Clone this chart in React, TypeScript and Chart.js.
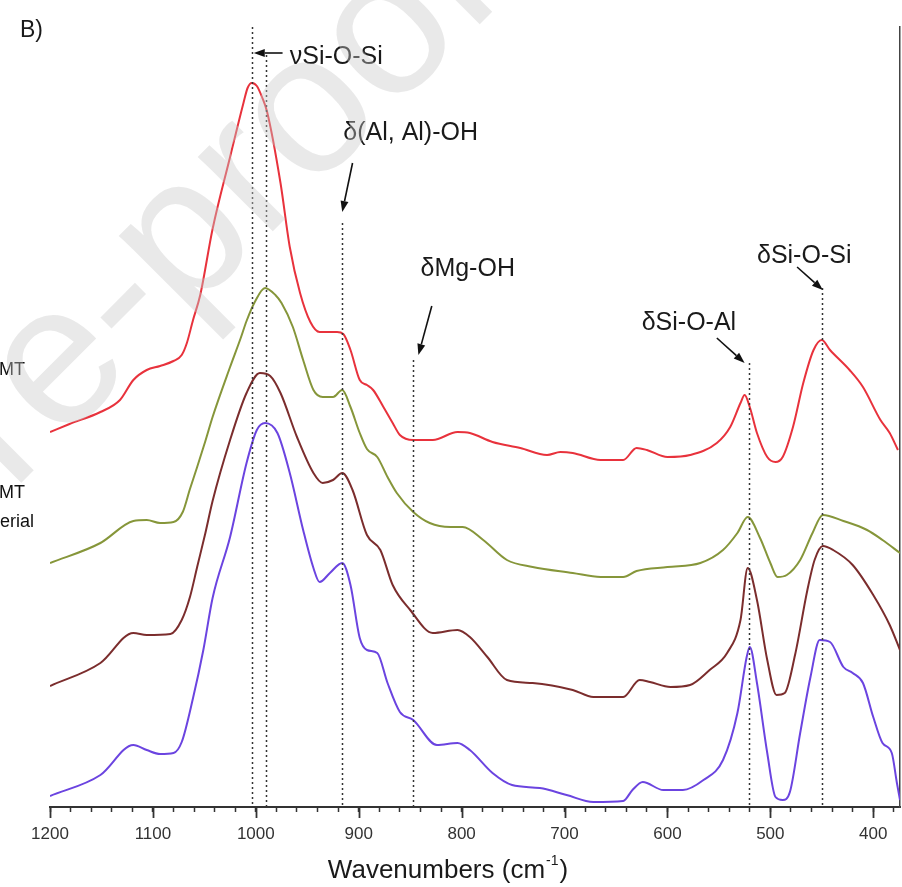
import React, { useEffect, useRef } from "react";
import { Chart, registerables } from "chart.js";
Chart.register(...registerables);

// ---- data (wavenumber in cm-1, intensity in arbitrary offset units) ----
const redWn = [1200,1181,1151,1132,1119,1106,1093,1080,1072,1067,1061,1054,1042,1025,1012,1008,1004,999,994,989,976,967,957,947,938,921,915,908,899,892,886,876,867,860,847,828,804,792,770,743,717,704,692,665,643,630,620,600,578,552,539,529,525,520,513,503,495,488,478,468,458,450,442,423,410,393,384,376];
const redAbs = [375,383,395,407,427,437,441,446,452,464,487,512,578,650,704,719,724,721,710,695,624,560,514,485,475,475,473,457,427,422,417,400,384,372,367,367,375,374,365,359,352,355,354,347,347,359,357,350,352,364,380,404,412,400,374,350,345,350,380,424,457,467,457,437,420,387,374,357];

const greenWn = [1200,1151,1119,1106,1093,1080,1071,1064,1057,1049,1042,1025,1015,1009,1001,991,981,975,964,954,944,935,925,916,908,899,892,882,872,863,847,831,811,799,779,756,731,692,665,643,630,600,568,546,532,522,510,500,493,484,471,459,449,429,406,391,374];
const greenAbs = [244,264,286,287,284,285,295,318,340,366,390,440,468,486,505,519,512,504,480,447,417,410,410,417,400,374,358,350,330,314,295,284,280,280,267,247,240,234,230,230,236,240,244,257,274,290,269,244,230,232,247,274,292,286,277,267,254];

const brownWn = [1200,1151,1119,1106,1083,1072,1064,1057,1049,1042,1025,1009,996,986,976,960,944,935,925,916,906,892,879,867,850,828,804,792,775,756,731,692,672,643,627,617,597,578,559,542,529,522,513,503,494,486,476,464,457,449,439,420,400,384,374];
const brownAbs = [121,144,174,172,173,187,210,240,274,306,367,414,434,431,414,370,334,324,327,334,317,272,257,222,197,174,177,170,150,127,124,117,110,110,127,125,120,122,137,154,187,239,207,147,112,114,152,217,247,261,257,242,212,182,157];

const purpleWn = [1200,1151,1119,1106,1093,1080,1072,1061,1051,1042,1025,1009,999,991,979,967,954,944,938,928,916,908,899,892,882,872,860,847,824,804,792,770,751,724,698,672,643,634,624,604,585,565,546,532,523,520,513,503,495,488,481,471,461,452,442,429,420,410,400,391,382,377,374];
const purpleAbs = [11,32,62,57,53,54,65,109,157,209,270,344,377,384,374,334,277,239,225,234,244,222,169,157,154,124,95,87,62,64,57,34,22,19,12,5,6,17,25,17,17,27,47,94,150,160,124,54,10,7,15,74,130,167,165,140,134,124,90,64,54,24,7];

const majorTicks = [1200,1100,1000,900,800,700,600,500,400];

// band marker lines: wavenumber and top of the dotted line
const bandLineWn = [1004, 990, 916, 847, 521, 450];
const bandLineTop = [780, 752, 584, 447, 444, 519];

// band labels
const bandText = ["νSi-O-Si", "δ(Al, Al)-OH", "δMg-OH", "δSi-O-Al", "δSi-O-Si"];
const bandTextWn = [967, 915, 840, 625, 513];
const bandTextY = [743, 667, 531, 477, 544];

// arrows: tail -> head
const arrowFrom = [[974, 754], [906, 644], [829, 501], [552, 469], [474, 540]];
const arrowTo = [[1002, 754], [916, 595], [842, 452], [525, 444], [449, 517]];

const FONT = '"Liberation Sans", Arial, Helvetica, sans-serif';

const pts = (wn: number[], ab: number[]) => wn.map((w, i) => ({ x: w, y: ab[i] }));

const annotate = {
  id: "annotate",
  afterDatasetsDraw(chart: any) {
    const { ctx, scales } = chart;
    const x = scales.x, y = scales.y;
    ctx.save();
    // dotted band lines
    ctx.strokeStyle = "#333";
    ctx.lineWidth = 1.5;
    ctx.setLineDash([2, 3]);
    bandLineWn.forEach((w, i) => {
      const px = Math.round(x.getPixelForValue(w)) + 0.5;
      ctx.beginPath();
      ctx.moveTo(px, y.getPixelForValue(bandLineTop[i]));
      ctx.lineTo(px, y.getPixelForValue(0));
      ctx.stroke();
    });
    ctx.setLineDash([]);
    // arrows
    ctx.fillStyle = "#111";
    ctx.strokeStyle = "#111";
    ctx.lineWidth = 1.6;
    arrowFrom.forEach((f, i) => {
      const t = arrowTo[i];
      const x1 = x.getPixelForValue(f[0]), y1 = y.getPixelForValue(f[1]);
      const x2 = x.getPixelForValue(t[0]), y2 = y.getPixelForValue(t[1]);
      const a = Math.atan2(y2 - y1, x2 - x1);
      const L = 11, W = 4;
      const bx = x2 - L * Math.cos(a), by = y2 - L * Math.sin(a);
      ctx.beginPath();
      ctx.moveTo(x1, y1);
      ctx.lineTo(bx, by);
      ctx.stroke();
      ctx.beginPath();
      ctx.moveTo(x2, y2);
      ctx.lineTo(bx + W * Math.sin(a), by - W * Math.cos(a));
      ctx.lineTo(bx - W * Math.sin(a), by + W * Math.cos(a));
      ctx.closePath();
      ctx.fill();
    });
    // labels
    ctx.font = `25px ${FONT}`;
    ctx.fillStyle = "#1a1a1a";
    ctx.textAlign = "left";
    ctx.textBaseline = "alphabetic";
    bandText.forEach((s, i) => {
      ctx.fillText(s, x.getPixelForValue(bandTextWn[i]), y.getPixelForValue(bandTextY[i]));
    });
    ctx.restore();
  },
  afterDraw(chart: any) {
    const { ctx, scales, chartArea } = chart;
    const x = scales.x;
    ctx.save();
    // major tick marks (longer than the minor ones drawn by the axis)
    ctx.strokeStyle = "#333";
    ctx.lineWidth = 1.8;
    majorTicks.forEach((v) => {
      const px = Math.round(x.getPixelForValue(v)) + 0.5;
      ctx.beginPath();
      ctx.moveTo(px, chartArea.bottom);
      ctx.lineTo(px, chartArea.bottom + 11);
      ctx.stroke();
    });
    // axis title with superscript
    ctx.fillStyle = "#1a1a1a";
    ctx.textBaseline = "alphabetic";
    ctx.textAlign = "left";
    const big = `26px ${FONT}`, small = `14px ${FONT}`;
    const p1 = "Wavenumbers (cm", p2 = "-1", p3 = ")";
    ctx.font = big;
    const w1 = ctx.measureText(p1).width, w3 = ctx.measureText(p3).width;
    ctx.font = small;
    const w2 = ctx.measureText(p2).width;
    const cx = chartArea.left + 397;
    const sx = cx - (w1 + w2 + w3) / 2;
    const base = chartArea.bottom + 71;
    ctx.font = big;
    ctx.fillText(p1, sx, base);
    ctx.font = small;
    ctx.fillText(p2, sx + w1 + 1, base - 13);
    ctx.font = big;
    ctx.fillText(p3, sx + w1 + w2 + 2, base);
    // panel letter
    ctx.font = `23px ${FONT}`;
    ctx.fillText("B)", 20, 37);
    // clipped legend labels on the left edge
    ctx.font = `18px ${FONT}`;
    ctx.fillStyle = "#111";
    ctx.textAlign = "right";
    ctx.fillText("MMT", 25, 375);
    ctx.fillText("MMT", 25, 498);
    ctx.fillText("material", 34, 527);
    // watermark
    ctx.translate(-586, 1090);
    ctx.rotate(-Math.PI / 4);
    ctx.textAlign = "left";
    ctx.font = `200px ${FONT}`;
    ctx.fillStyle = "rgba(200,200,200,0.4)";
    ctx.fillText("Journal Pre-proof", 0, 0);
    ctx.restore();
  },
};

export default function App() {
  const ref = useRef<HTMLCanvasElement | null>(null);
  useEffect(() => {
    if (!ref.current) return;
    const chart = new Chart(ref.current, {
      type: "line",
      data: {
        datasets: [
          { data: pts(redWn, redAbs), borderColor: "#e8323c" },
          { data: pts(greenWn, greenAbs), borderColor: "#86963a" },
          { data: pts(brownWn, brownAbs), borderColor: "#7b2d2d" },
          { data: pts(purpleWn, purpleAbs), borderColor: "#6b44e0" },
        ].map((d) => ({
          ...d,
          borderWidth: 2,
          pointRadius: 0,
          fill: false,
          cubicInterpolationMode: "monotone" as const,
        })),
      },
      options: {
        animation: false,
        responsive: false,
        devicePixelRatio: 1,
        layout: { padding: { left: 50, right: 2, top: 27, bottom: 0 } },
        plugins: { legend: { display: false }, tooltip: { enabled: false } },
        scales: {
          x: {
            type: "linear",
            reverse: true,
            min: 374,
            max: 1200,
            position: "bottom",
            afterFit: (s: any) => { s.height = 80; s.paddingLeft = 0; s.paddingRight = 0; },
            ticks: {
              stepSize: 20,
              autoSkip: false,
              includeBounds: false,
              maxRotation: 0,
              color: "#333",
              padding: 12,
              font: { size: 17, family: FONT },
              callback: (v: any) => (Number(v) % 100 === 0 ? String(v) : ""),
            },
            grid: { display: true, drawOnChartArea: false, drawTicks: true, tickLength: 5, tickWidth: 1.5, tickColor: "#333" },
            border: { display: true, color: "#333", width: 2 },
          },
          y: {
            type: "linear",
            min: 0,
            max: 780,
            position: "right",
            afterFit: (s: any) => { s.width = 0; },
            ticks: { display: false },
            grid: { display: false, drawTicks: false },
            border: { display: true, color: "#444", width: 1.5 },
          },
        },
      },
      plugins: [annotate],
    });
    return () => chart.destroy();
  }, []);
  return (
    <div style={{ position: "fixed", left: 0, top: 0, width: 902, height: 887, background: "#fff" }}>
      <canvas ref={ref} width={902} height={887} style={{ display: "block" }} />
    </div>
  );
}
